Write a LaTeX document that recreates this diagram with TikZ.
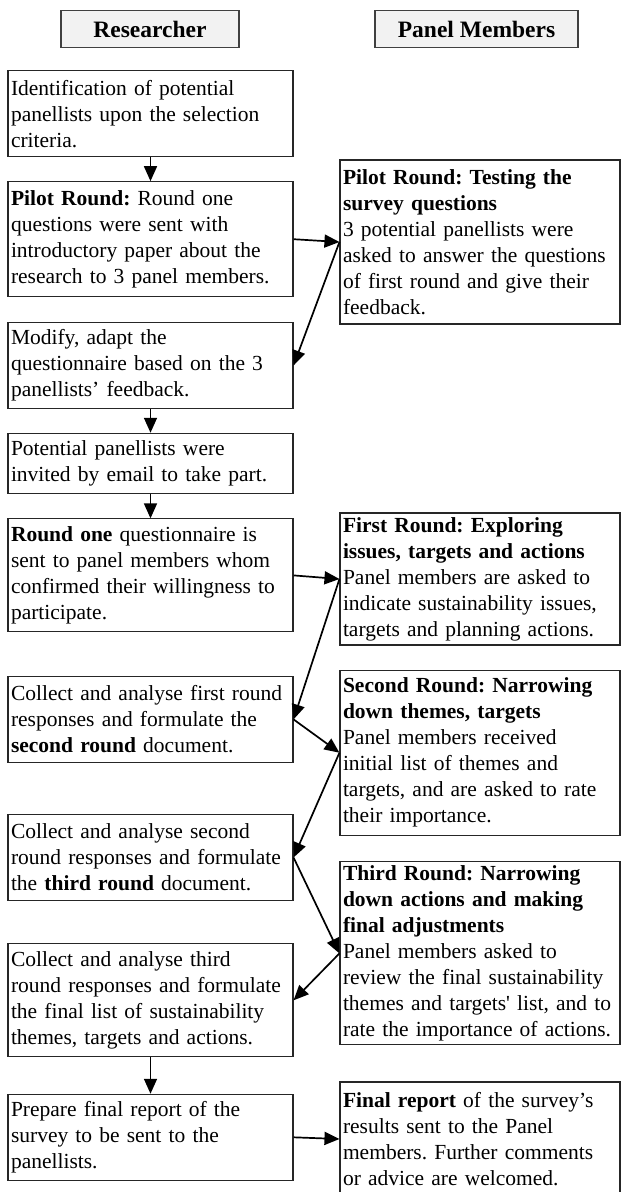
\documentclass[tikz,border=0pt]{standalone}
\usepackage{fontspec}
\setmainfont{Liberation Serif}
\usetikzlibrary{arrows.meta}
\hyphenpenalty=10000
\exhyphenpenalty=10000
\frenchspacing
\begin{document}
\begin{tikzpicture}[x=1pt,y=-1pt,
  box/.style={draw=black!85, line width=1.1pt, align=left, inner xsep=3pt, inner ysep=1pt,
    font=\fontsize{21.5}{26}\selectfont},
  lbox/.style={box, text width=279pt},
  rbox/.style={box, text width=274pt},
  hdr/.style={draw=black!75, fill=black!5, line width=1.1pt,
    font=\fontsize{23.5}{27}\selectfont\bfseries, minimum height=37pt},
  arr/.style={-{Triangle[length=15pt,width=13pt]}, line width=1.7pt}
]
\useasboundingbox (0,0) rectangle (622,1192);

% headers
\node[hdr, minimum width=178pt] (hR) at (150,29) {Researcher};
\node[hdr, minimum width=203pt] (hP) at (476.5,29) {Panel Members};

% left column
\node[lbox, minimum height=86pt] (b1) at (150.5,113.7)
  {Identification of potential\\panellists upon the selection\\criteria.};
\node[lbox, minimum height=115pt] (b2) at (150.5,239.2)
  {\textbf{Pilot Round:} Round one\\questions were sent with\\introductory paper about the\\research to 3 panel members.};
\node[lbox, minimum height=86pt] (b3) at (150.5,365.5)
  {Modify, adapt the\\questionnaire based on the 3\\panellists’ feedback.};
\node[lbox, minimum height=60pt] (b4) at (150.5,463.3)
  {Potential panellists were\\invited by email to take part.};
\node[lbox, minimum height=113pt] (b5) at (150.5,575.4)
  {\textbf{Round one} questionnaire is\\sent to panel members whom\\confirmed their willingness to\\participate.};
\node[lbox, minimum height=86pt] (b6) at (150.5,719.4)
  {Collect and analyse first round\\responses and formulate the\\\textbf{second round} document.};
\node[lbox, minimum height=86pt] (b7) at (150.5,857.5)
  {Collect and analyse second\\round responses and formulate\\the \textbf{third round} document.};
\node[lbox, minimum height=113pt] (b8) at (150.5,1000.3)
  {Collect and analyse third\\round responses and formulate\\the final list of sustainability\\themes, targets and actions.};
\node[lbox, minimum height=86pt] (b9) at (150.5,1137.3)
  {Prepare final report of the\\survey to be sent to the\\panellists.};

% right column
\node[rbox, minimum height=164pt] (rA) at (480,242)
  {\textbf{Pilot Round: Testing the}\\\textbf{survey questions}\\3 potential panellists were\\asked to answer the questions\\of first round and give their\\feedback.};
\node[rbox, minimum height=132pt] (rB) at (480,579)
  {\textbf{First Round: Exploring}\\\textbf{issues, targets and actions}\\Panel members are asked to\\indicate sustainability issues,\\targets and planning actions.};
\node[rbox, minimum height=165pt] (rC) at (480,752.7)
  {\textbf{Second Round: Narrowing}\\\textbf{down themes, targets}\\Panel members received\\initial list of themes and\\targets, and are asked to rate\\their importance.};
\node[rbox, minimum height=183pt] (rD) at (480,953.4)
  {\textbf{Third Round: Narrowing}\\\textbf{down actions and making}\\\textbf{final adjustments}\\Panel members asked to\\review the final sustainability\\themes and targets\textquotesingle{} list, and to\\rate the importance of actions.};
\node[rbox, minimum height=114pt] (rE) at (480,1139)
  {\textbf{Final report} of the survey’s\\results sent to the Panel\\members. Further comments\\or advice are welcomed.};

% vertical arrows
\draw[arr] (b1.south) -- (b2.north);
\draw[arr] (b3.south) -- (b4.north);
\draw[arr] (b4.south) -- (b5.north);
\draw[arr] (b8.south) -- (b9.north);

% cross arrows
\draw[arr] (b2.east) -- (rA.west);
\draw[arr] (rA.west) -- (b3.east);
\draw[arr] (b5.east) -- (rB.west);
\draw[arr] (rB.west) -- (b6.east);
\draw[arr] (b6.east) -- (rC.west);
\draw[arr] (rC.west) -- (b7.east);
\draw[arr] (b7.east) -- (rD.west);
\draw[arr] (rD.west) -- (b8.east);
\draw[arr] (b9.east) -- (rE.west);
\end{tikzpicture}
\end{document}
